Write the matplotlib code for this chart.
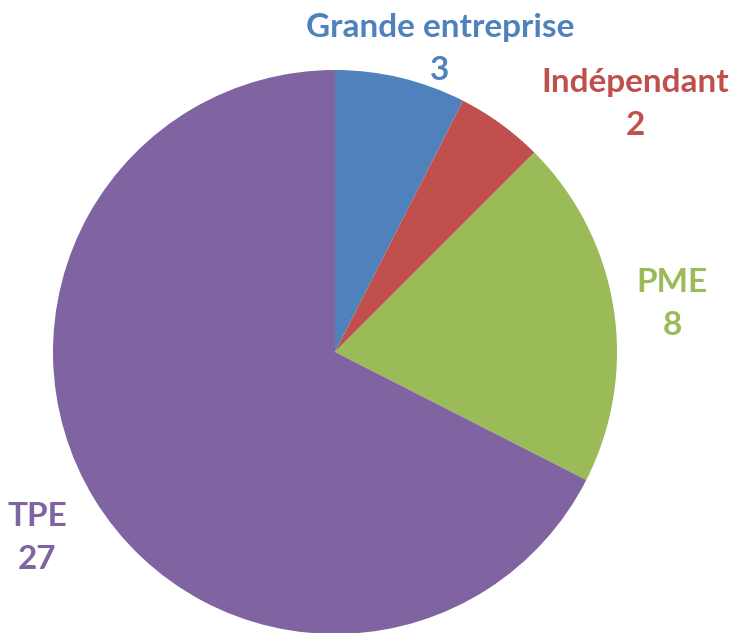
import matplotlib.pyplot as plt

categories = ['Grande entreprise', 'Indépendant', 'PME', 'TPE']
values = [3, 2, 8, 27]
colors = ['#4F81BD', '#C0504D', '#9BBB59', '#8064A2']
# label anchor points in figure pixels (x, y from top)
label_pos = [(440, 49), (635, 104), (672, 304), (37, 538)]

fig = plt.figure(figsize=(7.36, 6.33), dpi=100)
ax = fig.add_axes([0, 0, 1, 1])

ax.pie(values, colors=colors, startangle=90, counterclock=False,
       center=(335, 281), radius=282, frame=True,
       wedgeprops=dict(linewidth=0))
ax.set_xlim(0, 736)
ax.set_ylim(0, 633)
ax.axis('off')

for name, val, col, (x, y) in zip(categories, values, colors, label_pos):
    ax.text(x, 633 - y, f'{name}\n{val}', color=col, ha='center', va='center',
            fontsize=24, fontweight='bold', family='Lato', linespacing=1.55)

fig.savefig('out.png', dpi=100)
